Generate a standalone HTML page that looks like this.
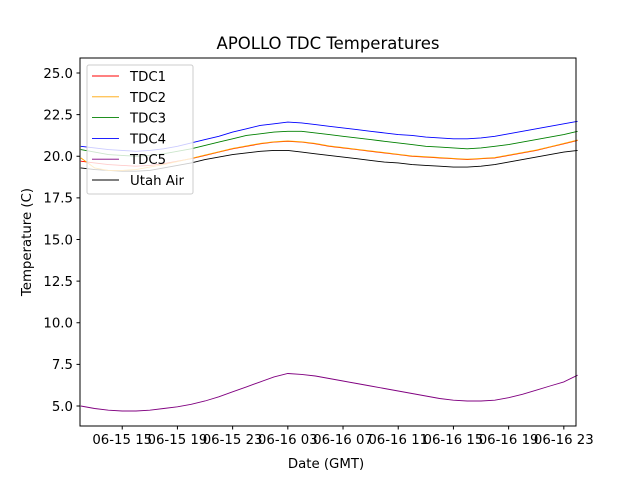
<!DOCTYPE html>
<html><head><meta charset="utf-8"><style>
body{margin:0;background:#fff}
svg{display:block;font-family:"DejaVu Sans","Liberation Sans",sans-serif}
</style></head><body>
<svg id="chart" width="640" height="480">
<rect x="0" y="0" width="640" height="480" fill="#fff"/>
<text x="328" y="49" font-size="16.5" text-anchor="middle">APOLLO TDC Temperatures</text>
<g id="plot"></g>
<g id="axes"></g>
<text x="326" y="468" font-size="13.3" text-anchor="middle">Date (GMT)</text>
<text transform="translate(31,242) rotate(-90)" font-size="13.3" text-anchor="middle">Temperature (C)</text>
<g id="legend"></g>
</svg>
<script>
const hours = [12,13,14,15,16,17,18,19,20,21,22,23,24,25,26,27,28,29,30,31,32,33,34,35,36,37,38,39,40,41,42,43,44,45,46,47,48];
const tdc1 = [19.7,19.6,19.5,19.45,19.4,19.45,19.55,19.7,19.85,20.05,20.25,20.45,20.6,20.75,20.85,20.9,20.85,20.75,20.6,20.5,20.4,20.3,20.2,20.1,20.0,19.95,19.9,19.85,19.8,19.85,19.9,20.05,20.2,20.35,20.55,20.75,20.95];
const tdc2 = [19.9,19.3,19.15,19.15,19.2,19.35,19.5,19.68,19.87,20.07,20.27,20.47,20.62,20.77,20.87,20.92,20.87,20.77,20.62,20.52,20.42,20.32,20.22,20.12,20.02,19.97,19.92,19.87,19.82,19.87,19.92,20.07,20.22,20.37,20.57,20.77,20.97];
const tdc3 = [20.4,20.25,20.1,20.05,20.0,20.05,20.15,20.3,20.45,20.65,20.85,21.05,21.25,21.35,21.45,21.5,21.5,21.4,21.3,21.2,21.1,21.0,20.9,20.8,20.7,20.6,20.55,20.5,20.45,20.5,20.6,20.7,20.85,21.0,21.15,21.3,21.5];
const tdc4 = [20.6,20.5,20.4,20.35,20.3,20.35,20.45,20.6,20.8,21.0,21.2,21.45,21.65,21.85,21.95,22.05,22.0,21.9,21.8,21.7,21.6,21.5,21.4,21.3,21.25,21.15,21.1,21.05,21.05,21.1,21.2,21.35,21.5,21.65,21.8,21.95,22.1];
const tdc5 = [5.0,4.85,4.75,4.7,4.7,4.75,4.85,4.95,5.1,5.3,5.55,5.85,6.15,6.45,6.75,6.95,6.9,6.8,6.65,6.5,6.35,6.2,6.05,5.9,5.75,5.6,5.45,5.35,5.3,5.3,5.35,5.5,5.7,5.95,6.2,6.45,6.85];
const utahAir = [19.3,19.2,19.15,19.1,19.1,19.15,19.3,19.45,19.6,19.8,19.95,20.1,20.2,20.3,20.35,20.35,20.25,20.15,20.05,19.95,19.85,19.75,19.65,19.6,19.5,19.45,19.4,19.35,19.35,19.4,19.5,19.65,19.8,19.95,20.1,20.25,20.35];
const seriesNames = ["TDC1","TDC2","TDC3","TDC4","TDC5","Utah Air"];
const yTicks = [5.0,7.5,10.0,12.5,15.0,17.5,20.0,22.5,25.0];
const xTickHours = [15,19,23,27,31,35,39,43,47];
const xTickLabels = ["06-15 15","06-15 19","06-15 23","06-16 03","06-16 07","06-16 11","06-16 15","06-16 19","06-16 23"];

const NS="http://www.w3.org/2000/svg";
const L=80,R=576,T=58,B=426;
const x=h=>L+(h-11.94)*13.8;
const y=v=>73+(25-v)*16.65;
function mk(tag,attrs,parent){const e=document.createElementNS(NS,tag);for(const k in attrs)e.setAttribute(k,attrs[k]);parent.appendChild(e);return e;}
const plot=document.getElementById('plot'),axes=document.getElementById('axes'),leg=document.getElementById('legend');
const data=[tdc1,tdc2,tdc3,tdc4,tdc5,utahAir];
const colors=["#ff0000","#ffa500","#008000","#0000ff","#800080","#000000"];
const drawOrder=[5,0,1,2,3,4];
drawOrder.forEach(i=>{
  const d=hours.map((h,j)=>(j?'L':'M')+x(h).toFixed(1)+','+y(data[i][j]).toFixed(1)).join('');
  const p=mk('path',{d:d,fill:'none',stroke:colors[i],'stroke-width':0.9},plot);
  
  
});
mk('rect',{x:L,y:T,width:R-L,height:B-T,fill:'none',stroke:'#000','stroke-width':1},axes);
yTicks.forEach(v=>{
  mk('line',{x1:L-3.5,x2:L,y1:y(v),y2:y(v),stroke:'#000'},axes);
  const t=mk('text',{x:L-7,y:y(v)+4.8,'font-size':13.3,'text-anchor':'end'},axes);
  t.textContent=v.toFixed(1);
  
  
});
xTickHours.forEach((h,i)=>{
  mk('line',{x1:x(h),x2:x(h),y1:B,y2:B+3.5,stroke:'#000'},axes);
  const t=mk('text',{x:x(h),y:B+18,'font-size':13.3,'text-anchor':'middle'},axes);
  t.textContent=xTickLabels[i];
  
  
});
const lb=mk('rect',{x:87,y:65,width:106,height:129,rx:2,fill:'#fff','fill-opacity':0.8,stroke:'#ccc','stroke-width':1},leg);


seriesNames.forEach((n,i)=>{
  const yy=76+i*20.8;
  mk('line',{x1:92,x2:119,y1:yy,y2:yy,stroke:colors[i],'stroke-width':0.9},leg);
  const t=mk('text',{x:130,y:yy+5,'font-size':13.3},leg);
  t.textContent=n;
  
  
});
</script>
</body></html>
